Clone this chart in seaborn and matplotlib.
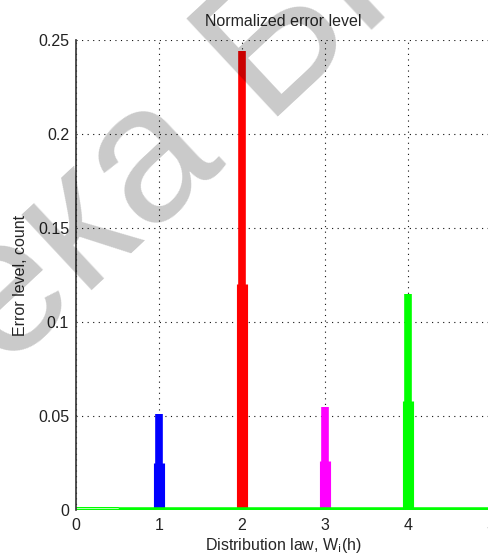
import matplotlib
matplotlib.use("Agg")
import matplotlib.pyplot as plt
import seaborn as sns
import pandas as pd

# peak positions, colours and heights (upper thin part / lower thick part)
positions = [1, 2, 3, 4]
colors = ["#0000ff", "#ff0000", "#ff00ff", "#00ff00"]
top_values = [0.051, 0.244, 0.055, 0.115]
low_values = [0.025, 0.120, 0.026, 0.058]
baseline_x = [0, 5]
baseline_y = [0, 0]
offset_x = [0, 0.5]
offset_y = [0.0013, 0.0013]

sns.set_style("white")
plt.rcParams["font.family"] = ["Liberation Sans", "DejaVu Sans"]

fig = plt.figure(figsize=(4.88, 5.58), dpi=100)
ax = fig.add_axes([76 / 488, 48 / 558, 415 / 488, 470 / 558])

for p, c, top, low in zip(positions, colors, top_values, low_values):
    seg = pd.DataFrame({"x": [p, p], "y": [0, top]})
    sns.lineplot(data=seg, x="x", y="y", estimator=None, sort=False,
                 color=c, linewidth=5.5, solid_capstyle="butt", ax=ax)
    seg_low = pd.DataFrame({"x": [p, p], "y": [0, low]})
    sns.lineplot(data=seg_low, x="x", y="y", estimator=None, sort=False,
                 color=c, linewidth=8, solid_capstyle="butt", ax=ax)

sns.lineplot(x=baseline_x, y=baseline_y, estimator=None, sort=False,
             color="#00ff00", linewidth=4, solid_capstyle="butt", ax=ax)
sns.lineplot(x=offset_x, y=offset_y, estimator=None, sort=False,
             color="#00ff00", linewidth=1.4, ax=ax)
sns.lineplot(x=offset_x, y=offset_y, estimator=None, sort=False,
             color="white", linewidth=0.5, ax=ax)

ax.set_xlim(0, 5)
ax.set_ylim(0, 0.25)
ax.set_xticks([0, 1, 2, 3, 4, 5])
ax.set_yticks([0, 0.05, 0.1, 0.15, 0.2, 0.25])
ax.set_xticklabels(["0", "1", "2", "3", "4", "5"])
ax.set_yticklabels(["0", "0.05", "0.1", "0.15", "0.2", "0.25"])
ax.grid(True, color="#111111", linestyle=(0, (1, 4)), linewidth=0.8)
ax.tick_params(direction="in", length=4, labelsize=11.5, colors="#222222")
ax.tick_params(axis="x", pad=6)
ax.tick_params(axis="y", pad=5)
for s in ["top", "right", "bottom"]:
    ax.spines[s].set_visible(False)
ax.spines["left"].set_color("#333333")
ax.spines["left"].set_linewidth(1.2)

ax.set_title("Normalized error level", fontsize=11.5, pad=10)
ax.set_xlabel(r"Distribution law, W$_\mathrm{i}$(h)", fontsize=11.5, labelpad=2)
ax.set_ylabel("Error level, count", fontsize=11.5, labelpad=7)

# library watermark, split so the visible part lands where it does in the scan
wm = dict(fontsize=140, color="black", alpha=0.21, rotation=43,
          rotation_mode="anchor", va="baseline", zorder=10)
fig.text(0.007, 0.332, "ека БГУИР", ha="left", **wm)
fig.text(0.007, 0.332, "Библиот", ha="right", **wm)

fig.savefig("out.png", dpi=100)
